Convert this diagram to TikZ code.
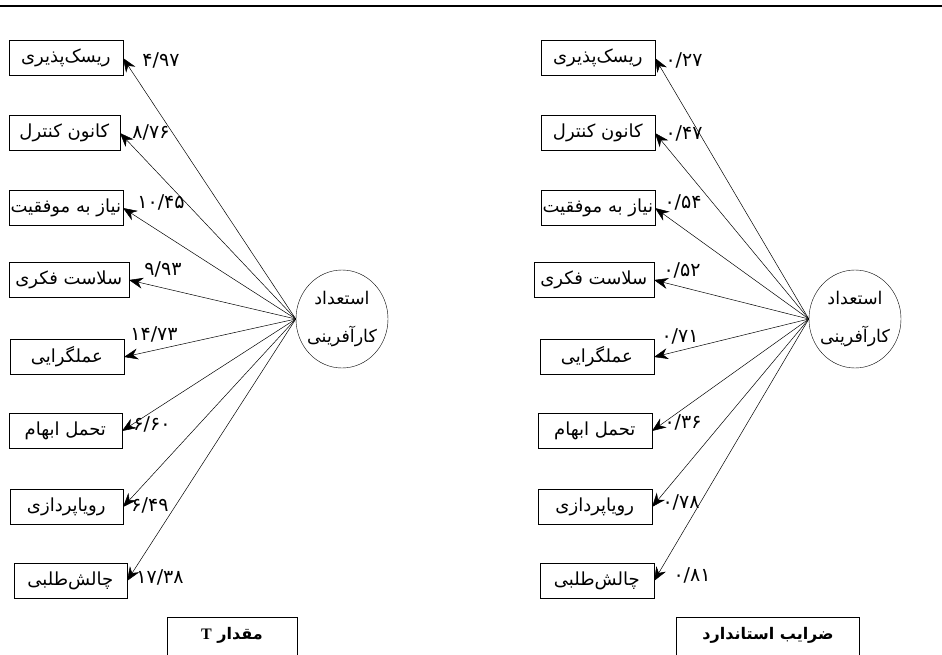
\documentclass[tikz,border=0pt]{standalone}
\usepackage{fontspec}
\newfontfamily\farsi[Script=Arabic]{DejaVu Sans}
\newfontfamily\latin{Liberation Serif}
\TeXXeTstate=1
\usetikzlibrary{arrows.meta,shapes.geometric}

\begin{document}
\begin{tikzpicture}[x=1pt, y=-1pt,
  every node/.style={align=center, font=\farsi\fontsize{18}{22}\selectfont},
  box/.style={draw, anchor=east, minimum height=35pt, inner xsep=1.5pt},
  num/.style={inner sep=0pt, font=\farsi\fontsize{19}{20}\selectfont},
  latent/.style={draw, ellipse, minimum width=92pt, minimum height=98pt, inner sep=0pt, font=\farsi\fontsize{17.5}{38}\selectfont},
  title/.style={draw, anchor=north, minimum height=40pt, text depth=8pt, font=\farsi\bfseries\fontsize{16}{18}\selectfont},
  link/.style={-{Stealth[length=14pt,width=11pt]}, line width=0.5pt}]
\useasboundingbox (0,0) rectangle (942,655);
\draw[line width=2pt] (0,6) -- (942,6);

% T values
\node (la) [box, minimum width=114pt] at (123,58) {\beginR ریسک‌پذیری\endR};
\node (lb) [box, minimum width=111pt] at (120,133) {\beginR کانون کنترل\endR};
\node (lc) [box, minimum width=114pt] at (123,208) {\beginR نیاز به موفقیت\endR};
\node (ld) [box, minimum width=120pt] at (129,280) {\beginR سلاست فکری\endR};
\node (le) [box, minimum width=114pt] at (124,357) {\beginR عملگرایی\endR};
\node (lf) [box, minimum width=113pt] at (122,431) {\beginR تحمل ابهام\endR};
\node (lg) [box, minimum width=113pt] at (123,507) {\beginR رویاپردازی\endR};
\node (lh) [box, minimum width=113pt] at (127,581) {\beginR چالش‌طلبی\endR};
\node (lat) [latent] at (342,319) {\makebox[0pt]{\beginR استعداد\endR}\\\makebox[0pt]{\beginR کارآفرینی\endR}};

\draw[link] (lat.west) -- (la.east);
\draw[link] (lat.west) -- (lb.east);
\draw[link] (lat.west) -- (lc.east);
\draw[link] (lat.west) -- (ld.east);
\draw[link] (lat.west) -- (le.east);
\draw[link] (lat.west) -- (lf.east);
\draw[link] (lat.west) -- (lg.east);
\draw[link] (lat.west) -- (lh.east);

\node (na) [num] at (161,60) {۴/۹۷};
\node (nb) [num] at (151,132) {۸/۷۶};
\node (nc) [num] at (161,202) {۱۰/۴۵};
\node (nd) [num] at (163,269) {۹/۹۳};
\node (ne) [num] at (154,334) {۱۴/۷۳};
\node (nf) [num] at (152,424) {۶/۶۰};
\node (ng) [num] at (150,505) {۶/۴۹};
\node (nh) [num] at (160,577) {۱۷/۳۸};

\node (tval) [title, minimum width=130pt] at (232,617) {\beginR مقدار {\latin\bfseries T}\endR};

% standard coefficients
\node (ra) [box, minimum width=114pt] at (655,58) {\beginR ریسک‌پذیری\endR};
\node (rb) [box, minimum width=114pt] at (655,133) {\beginR کانون کنترل\endR};
\node (rc) [box, minimum width=114pt] at (655,208) {\beginR نیاز به موفقیت\endR};
\node (rd) [box, minimum width=120pt] at (654,280) {\beginR سلاست فکری\endR};
\node (re) [box, minimum width=114pt] at (654,357) {\beginR عملگرایی\endR};
\node (rf) [box, minimum width=114pt] at (652,431) {\beginR تحمل ابهام\endR};
\node (rg) [box, minimum width=114pt] at (652,507) {\beginR رویاپردازی\endR};
\node (rh) [box, minimum width=114pt] at (654,581) {\beginR چالش‌طلبی\endR};
\node (rat) [latent] at (855,319) {\makebox[0pt]{\beginR استعداد\endR}\\\makebox[0pt]{\beginR کارآفرینی\endR}};

\draw[link] (rat.west) -- (ra.east);
\draw[link] (rat.west) -- (rb.east);
\draw[link] (rat.west) -- (rc.east);
\draw[link] (rat.west) -- (rd.east);
\draw[link] (rat.west) -- (re.east);
\draw[link] (rat.west) -- (rf.east);
\draw[link] (rat.west) -- (rg.east);
\draw[link] (rat.west) -- (rh.east);

\node (ma) [num] at (684,60) {۰/۲۷};
\node (mb) [num] at (684,133) {۰/۴۷};
\node (mc) [num] at (683,202) {۰/۵۴};
\node (md) [num] at (682,270) {۰/۵۲};
\node (me) [num] at (680,336) {۰/۷۱};
\node (mf) [num] at (683,422) {۰/۳۶};
\node (mg) [num] at (681,502) {۰/۷۸};
\node (mh) [num] at (692,575) {۰/۸۱};

\node (sval) [title, minimum width=183pt] at (768,617) {\beginR ضرایب استاندارد\endR};
\end{tikzpicture}
\end{document}
